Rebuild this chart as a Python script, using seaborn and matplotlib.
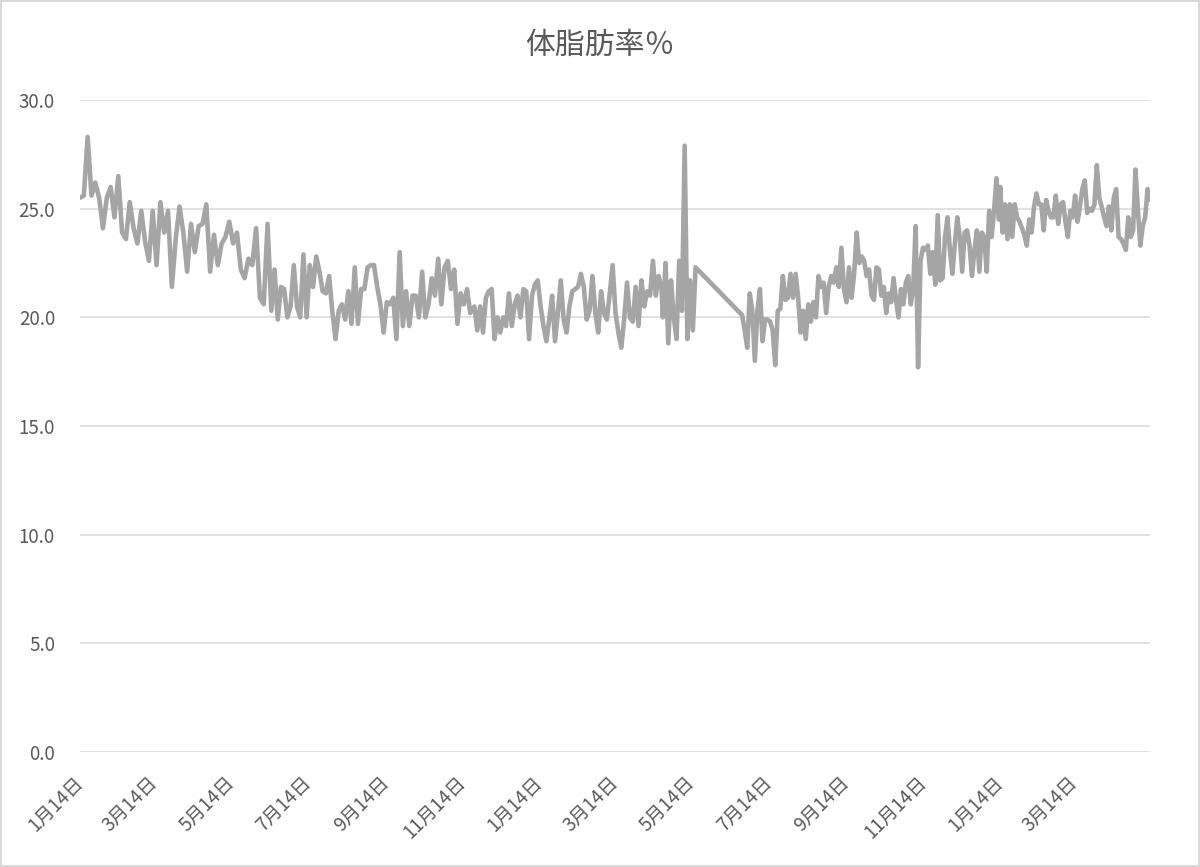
import pandas as pd
import matplotlib.pyplot as plt
import seaborn as sns

# 体脂肪率 readings, split into runs of roughly equally spaced days
a_start, a_end = '2019-01-14', '2019-06-12'
a_vals = [25.5, 25.6, 28.3, 25.6, 26.2, 25.5, 24.1, 25.5, 26.0, 24.6, 26.5, 23.9, 23.6, 25.3, 24.1, 23.4, 24.9,
          23.5, 22.6, 24.9, 22.4, 25.3, 23.9, 24.9, 21.4, 23.6, 25.1, 23.9, 22.1, 24.3, 23.0, 24.2, 24.3, 25.2,
          22.1, 23.8, 22.4, 23.4, 23.7, 24.4, 23.4, 23.9, 22.2, 21.8, 22.7, 22.4, 24.1, 20.9, 20.6, 24.3]

b_start, b_end = '2019-06-15', '2019-11-20'
b_vals = [20.3, 22.2, 19.9, 21.4, 21.3, 20.0, 20.5, 22.4, 20.5, 20.0, 22.9, 20.0, 22.4, 21.4, 22.8, 22.1, 21.2,
          21.1, 21.9, 20.3, 19.0, 20.3, 20.6, 19.9, 21.2, 19.7, 22.3, 19.7, 21.3, 21.3, 22.3, 22.4, 22.4, 21.4,
          20.6, 19.3, 20.7, 20.6, 20.9, 19.0, 23.0, 19.6, 21.2, 19.6, 21.0, 21.0, 20.0, 22.1, 20.0, 20.6, 21.8,
          21.0, 22.7, 20.6, 22.3, 22.6, 21.3, 22.2, 19.7, 21.1, 20.6, 21.3, 20.2]

c_start, c_end = '2019-11-21', '2020-04-20'
c_vals = [20.3, 20.5, 19.4, 20.5, 19.3, 20.9, 21.2, 21.3, 19.0, 20.0, 19.3, 20.0, 19.6, 21.1, 19.6, 20.6, 21.0,
          20.0, 21.3, 21.2, 19.0, 21.0, 21.5, 21.7, 20.5, 19.6, 18.9, 19.9, 21.0, 18.9, 20.2, 21.7, 19.9, 19.3,
          20.5, 21.2, 21.3, 21.4, 22.0, 21.4, 19.9, 20.3, 21.9, 20.2, 19.3, 21.2, 20.2, 19.9, 21.1, 22.4, 20.2,
          19.3, 18.6, 19.9, 21.6, 20.0, 19.8, 21.4, 19.6, 21.7, 20.5, 21.2, 21.0, 22.6, 21.0, 21.9, 21.3]

d_start, d_end = '2020-04-21', '2020-05-17'
d_vals = [20.0, 22.5, 18.8, 21.7, 20.0, 19.0, 22.6, 20.3, 27.9, 19.0, 21.7, 19.4, 22.3]

e_start, e_end = '2020-06-23', '2020-09-24'
e_vals = [20.1, 19.4, 18.6, 21.1, 20.3, 18.0, 20.3, 21.3, 18.9, 19.9, 19.9, 19.8, 19.4, 17.8, 20.3, 20.4, 21.9,
          20.8, 20.9, 22.0, 20.9, 22.0, 20.9, 19.3, 20.3, 19.0, 20.6, 19.8, 20.7, 20.0, 21.9, 21.4, 21.6, 20.2,
          21.4, 21.9, 21.6, 22.3, 21.4, 23.2, 21.3, 20.7, 22.3, 20.9, 22.0, 23.9, 22.5]

f_start, f_end = '2020-09-26', '2021-01-13'
f_vals = [22.8, 22.6, 21.9, 22.2, 21.0, 20.8, 22.3, 22.2, 21.0, 21.4, 20.2, 21.1, 20.7, 21.8, 20.8, 20.0, 21.3,
          20.6, 21.6, 21.9, 20.6, 21.3, 24.2, 17.7, 22.6, 23.2, 23.1, 23.3, 22.0, 23.0, 21.5, 24.7, 21.7, 21.8,
          23.7, 24.6, 23.1, 22.0, 23.4, 24.6, 23.7, 22.1, 23.9, 24.0, 23.3, 21.9, 23.1, 24.0, 22.1, 23.9, 23.7,
          22.1, 24.9, 23.7, 24.9, 26.4, 24.5]

g_start, g_end = '2021-01-14', '2021-05-13'
g_vals = [26.0, 23.9, 25.2, 23.6, 25.2, 23.7, 25.2, 24.6, 24.4, 24.1, 23.8, 23.3, 24.5, 23.9, 25.1, 25.7, 25.2,
          25.2, 24.0, 25.4, 24.9, 24.6, 24.6, 25.6, 24.3, 25.2, 25.3, 24.4, 23.7, 24.9, 24.6, 25.6, 24.4, 25.1,
          25.9, 26.3, 24.8, 25.0, 24.9, 25.2, 27.0, 25.5, 25.1, 24.6, 24.2, 25.1, 24.0, 25.5, 25.9, 23.7, 23.6,
          23.4, 23.1, 24.6, 23.7, 24.0, 26.8, 24.9, 23.3, 24.2, 24.6, 25.9, 25.4]

runs = [(a_start, a_end, a_vals), (b_start, b_end, b_vals), (c_start, c_end, c_vals),
        (d_start, d_end, d_vals), (e_start, e_end, e_vals), (f_start, f_end, f_vals),
        (g_start, g_end, g_vals)]

tick_dates = ['2019-01-14', '2019-03-14', '2019-05-14', '2019-07-14', '2019-09-14', '2019-11-14',
              '2020-01-14', '2020-03-14', '2020-05-14', '2020-07-14', '2020-09-14', '2020-11-14',
              '2021-01-14', '2021-03-14']
y_ticks = [0, 5, 10, 15, 20, 25, 30]
title = '体脂肪率％'

parts = []
for s, e, v in runs:
    parts.append(pd.DataFrame({'日付': pd.date_range(s, e, periods=len(v)), '体脂肪率': v}))
df = pd.concat(parts, ignore_index=True)

sns.set_theme(style='white')
plt.rcParams['font.family'] = ['Noto Sans CJK JP', 'DejaVu Sans']

fig = plt.figure(figsize=(12, 8.67), dpi=100, edgecolor='#D9D9D9', linewidth=1.5)
ax = fig.add_axes([80 / 1200, 1 - 752 / 867, 1070 / 1200, 652 / 867])

sns.lineplot(data=df, x='日付', y='体脂肪率', ax=ax, color='#A5A5A5', linewidth=3.3,
             estimator=None, sort=True)
ax.lines[0].set_solid_joinstyle('round')

ax.set_ylim(0, 30)
ax.set_xlim(pd.Timestamp(a_start), pd.Timestamp(g_end))
ax.set_yticks(y_ticks)
ax.set_yticklabels([f'{t:.1f}' for t in y_ticks])
ticks = pd.to_datetime(tick_dates)
ax.set_xticks(ticks)
ax.set_xticklabels([f'{d.month}月{d.day}日' for d in ticks], rotation=45, ha='right',
                   va='center', rotation_mode='anchor')
ax.tick_params(axis='y', length=0, pad=18, labelsize=13.5, labelcolor='#595959')
ax.tick_params(axis='x', length=0, pad=20, labelsize=13.5, labelcolor='#595959')
ax.grid(axis='y', color='#D9D9D9', linewidth=1.1)
ax.grid(axis='x', visible=False)
ax.set_axisbelow(True)
for sp in ax.spines.values():
    sp.set_visible(False)
ax.set_xlabel('')
ax.set_ylabel('')

fig.text(0.5, 1 - 45 / 867, title, ha='center', va='center', fontsize=21.5, color='#595959')

fig.savefig('out.png', dpi=100, edgecolor=fig.get_edgecolor())
